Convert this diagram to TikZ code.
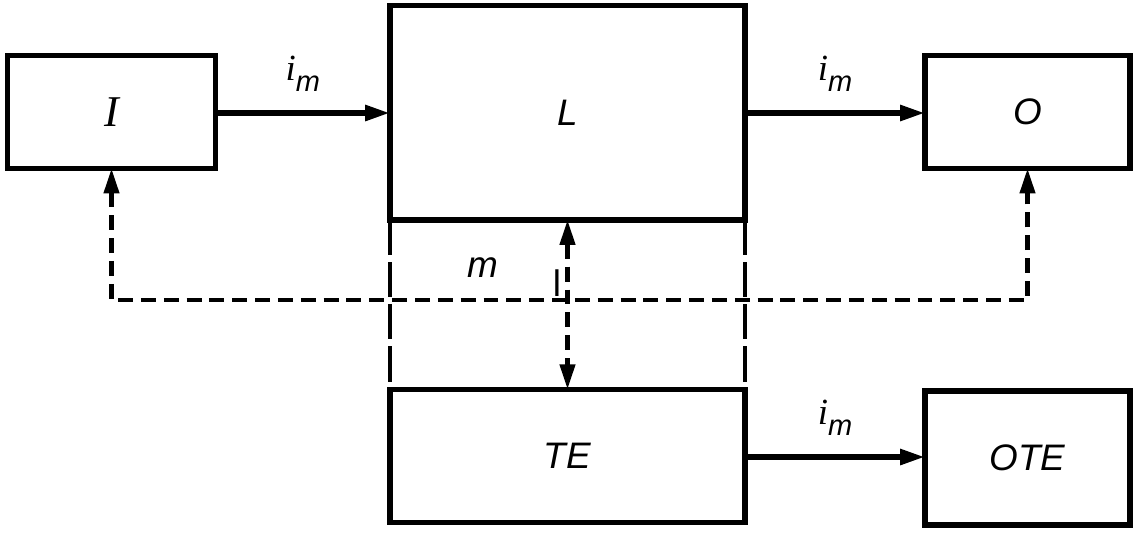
\documentclass[tikz,border=0pt]{standalone}
\usepackage{fontspec}
\setmainfont{Liberation Sans}
\newfontfamily\serifit{Liberation Serif}
\usetikzlibrary{arrows.meta}

\newcommand{\flowlabel}{{\serifit\itshape i}\raisebox{-0.3em}{\fontsize{16.5}{18}\selectfont m}}

\begin{document}
\begin{tikzpicture}[x=0.02cm,y=-0.02cm,line width=3.1pt,font=\fontsize{21}{25}\selectfont\itshape,
  >={Triangle[length=0.5cm,width=0.3cm]},
  box/.style={draw,inner sep=0pt,outer sep=0pt,minimum width=#1},
  flow/.style={->,line width=3.2pt},
  feedback/.style={line width=2.5pt,dash pattern=on 8.5pt off 4.5pt},
  sidedash/.style={line width=2.8pt,dash pattern=on 20pt off 4pt}]
\useasboundingbox (0,0) rectangle (1140,532);
\node[box=4.16cm,minimum height=2.26cm] (I) at (111.5,112) {\serifit\fontsize{25}{28}\selectfont\itshape I};
\node[box=7.1cm,minimum height=4.29cm] (L) at (567.5,112.7) {L};
\node[box=4.1cm,minimum height=2.26cm] (O) at (1027.5,112) {O};
\node[box=7.1cm,minimum height=2.67cm] (TE) at (567.5,456) {TE};
\node[box=4.1cm,minimum height=2.68cm] (OTE) at (1027.5,458) {OTE};
% flows
\draw[flow] (I.east |- 0,113) -- node[above=0.25cm] (im1) {\flowlabel} (L.west |- 0,113);
\draw[flow] (L.east |- 0,113) -- node[above=0.25cm] (im2) {\flowlabel} (O.west |- 0,113);
\draw[flow] (TE.east |- 0,457) -- node[above=0.25cm] (im3) {\flowlabel} (OTE.west |- 0,457);
% coupling
\draw[sidedash] (L.south west) -- (TE.north west);
\draw[sidedash] (L.south east) -- (TE.north east);
\draw[feedback,<->] (L.south) -- (TE.north);
\coordinate (fb) at (I.south |- 0,300);
\draw[feedback,<->] (I.south) -- (fb) -| (O.south);
\node (m) at (483,268) {m};
\node[font=\fontsize{21}{25}\selectfont] (l) at (557,283) {l};
\end{tikzpicture}
\end{document}
